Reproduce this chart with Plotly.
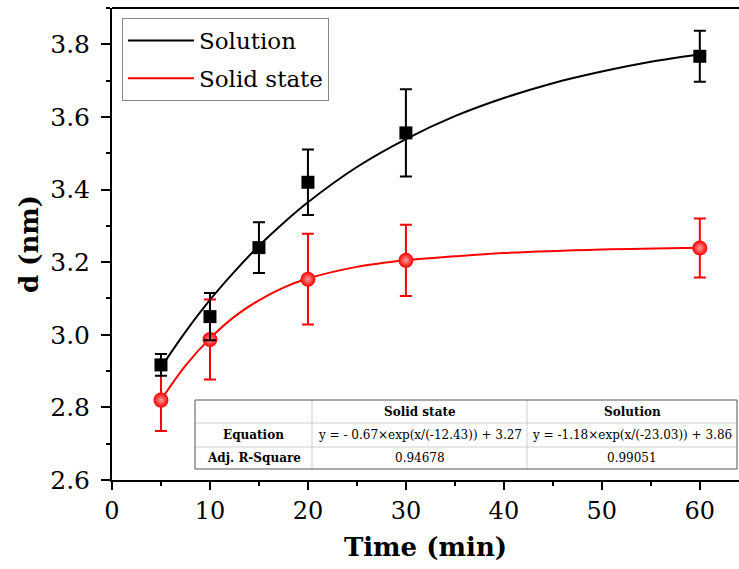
import plotly.graph_objects as go

# ---------------- data ----------------
time_solution = [5, 10, 15, 20, 30, 60]
d_solution = [2.917, 3.05, 3.24, 3.42, 3.556, 3.767]
err_solution = [0.03, 0.065, 0.07, 0.09, 0.12, 0.07]

time_solid = [5, 10, 20, 30, 60]
d_solid = [2.82, 2.987, 3.153, 3.205, 3.239]
err_solid = [0.085, 0.11, 0.125, 0.098, 0.081]

# fitted curves
fit_x_solution = [5, 7.5, 10, 12.5, 15, 17.5, 20, 25, 30, 35, 40, 45, 50, 55, 60]
fit_y_solution = [2.910, 3.008, 3.096, 3.174, 3.245, 3.308, 3.365, 3.462, 3.539,
                  3.602, 3.652, 3.693, 3.725, 3.752, 3.772]
fit_x_solid = [5, 7.5, 10, 12.5, 15, 17.5, 20, 25, 30, 35, 40, 50, 60]
fit_y_solid = [2.82, 2.915, 2.99, 3.05, 3.095, 3.13, 3.155, 3.187, 3.205,
               3.216, 3.225, 3.235, 3.24]

# fit table contents
fit_names = ["Solid state", "Solution"]
fit_equations = ["y = - 0.67×exp(x/(-12.43)) + 3.27", "y = -1.18×exp(x/(-23.03)) + 3.86"]
fit_r2 = ["0.94678", "0.99051"]

x_ticks = [0, 10, 20, 30, 40, 50, 60]
y_ticks = [2.6, 2.8, 3.0, 3.2, 3.4, 3.6, 3.8]

FONT = "DejaVu Serif"
W, H = 739, 569
ML, MR, MT, MB = 112, 0, 8, 89

fig = go.Figure()

# fit curves (legend entries)
fig.add_trace(go.Scatter(x=fit_x_solid, y=fit_y_solid, mode="lines", name="Solid state",
                         line=dict(color="#ff0000", width=2, shape="spline", smoothing=1.0),
                         legendrank=2, legendgroup="b"))
fig.add_trace(go.Scatter(x=fit_x_solution, y=fit_y_solution, mode="lines", name="Solution",
                         line=dict(color="#000000", width=2, shape="spline", smoothing=1.0),
                         legendrank=1, legendgroup="a"))

# data points with error bars
fig.add_trace(go.Scatter(x=time_solid, y=d_solid, mode="markers", showlegend=False,
                         marker=dict(symbol="circle", size=15, color="#ff0000",
                                     gradient=dict(type="radial", color="#ff9a9a"),
                                     line=dict(width=0)),
                         error_y=dict(type="data", array=err_solid, color="#ff0000",
                                      thickness=2, width=6)))
fig.add_trace(go.Scatter(x=time_solution, y=d_solution, mode="markers", showlegend=False,
                         marker=dict(symbol="square", size=13, color="#000000",
                                     line=dict(width=0)),
                         error_y=dict(type="data", array=err_solution, color="#000000",
                                      thickness=2, width=6)))

# ---------------- table (drawn in paper coords) ----------------
PW = W - ML - MR
PH = H - MT - MB


def px(xp):
    return (xp - ML) / PW


def py(yp):
    return (H - MB - yp) / PH


tx0, tx1, tx2, tx3 = 195, 312, 527, 737
ty0, ty1, ty2, ty3 = 400, 423, 447, 469

shapes = []
shapes.append(dict(type="rect", xref="paper", yref="paper", x0=px(tx0), x1=px(tx3),
                   y0=py(ty3), y1=py(ty0), fillcolor="white", line=dict(width=0), layer="above"))
inner = "#cfcfcf"
for yy in (ty1, ty2):
    shapes.append(dict(type="line", xref="paper", yref="paper", x0=px(tx0), x1=px(tx3),
                       y0=py(yy), y1=py(yy), line=dict(color=inner, width=1), layer="above"))
for xx in (tx1, tx2):
    shapes.append(dict(type="line", xref="paper", yref="paper", x0=px(xx), x1=px(xx),
                       y0=py(ty3), y1=py(ty0), line=dict(color=inner, width=1), layer="above"))
shapes.append(dict(type="rect", xref="paper", yref="paper", x0=px(tx0), x1=px(tx3),
                   y0=py(ty3), y1=py(ty0), line=dict(color="#555555", width=1), layer="above"))
# top frame line
shapes.append(dict(type="line", xref="paper", yref="paper", x0=0, x1=1, y0=1, y1=1,
                   line=dict(color="black", width=2)))

annotations = []
cols = [(tx0 + tx1) / 2, (tx1 + tx2) / 2, (tx2 + tx3) / 2]
rows = [(ty0 + ty1) / 2, (ty1 + ty2) / 2, (ty2 + ty3) / 2]
cells = [
    ["", "<b>" + fit_names[0] + "</b>", "<b>" + fit_names[1] + "</b>"],
    ["<b>Equation</b>", fit_equations[0], fit_equations[1]],
    ["<b>Adj. R-Square</b>", fit_r2[0], fit_r2[1]],
]
for r, row in enumerate(cells):
    for c, txt in enumerate(row):
        if txt:
            annotations.append(dict(xref="paper", yref="paper", x=px(cols[c]), y=py(rows[r]),
                                    text=txt, showarrow=False, xanchor="center", yanchor="middle",
                                    font=dict(family=FONT, size=12, color="black")))

fig.update_layout(
    width=W, height=H,
    margin=dict(l=ML, r=MR, t=MT, b=MB, pad=0),
    paper_bgcolor="white", plot_bgcolor="white",
    font=dict(family=FONT, color="black"),
    shapes=shapes, annotations=annotations,
    legend=dict(x=px(122), y=py(18), xanchor="left", yanchor="top",
                bgcolor="white", bordercolor="#888888", borderwidth=1,
                font=dict(family=FONT, size=23, color="black"),
                itemwidth=66, traceorder="grouped", tracegroupgap=5),
)
fig.update_xaxes(
    range=[0, 64], tickvals=x_ticks, ticks="outside", ticklen=8, tickwidth=2,
    tickcolor="black", showline=True, linecolor="black", linewidth=2, mirror=False,
    showgrid=False, zeroline=False,
    tickfont=dict(family=FONT, size=24),
    minor=dict(dtick=5, tick0=0, ticks="outside", ticklen=4, tickwidth=2, tickcolor="black"),
    title=dict(text="<b>Time (min)</b>", font=dict(family=FONT, size=26), standoff=14),
)
fig.update_yaxes(
    range=[2.6, 3.9], tickvals=y_ticks, ticktext=[f"{v:.1f}" for v in y_ticks],
    ticks="outside", ticklen=9, tickwidth=2, ticklabelstandoff=6,
    tickcolor="black", showline=True, linecolor="black", linewidth=2, mirror=False,
    showgrid=False, zeroline=False,
    tickfont=dict(family=FONT, size=25),
    minor=dict(dtick=0.1, tick0=2.6, ticks="outside", ticklen=4, tickwidth=2, tickcolor="black"),
    title=dict(text="<b>d (nm)</b>", font=dict(family=FONT, size=26), standoff=4),
)

fig.write_html("out.html")
